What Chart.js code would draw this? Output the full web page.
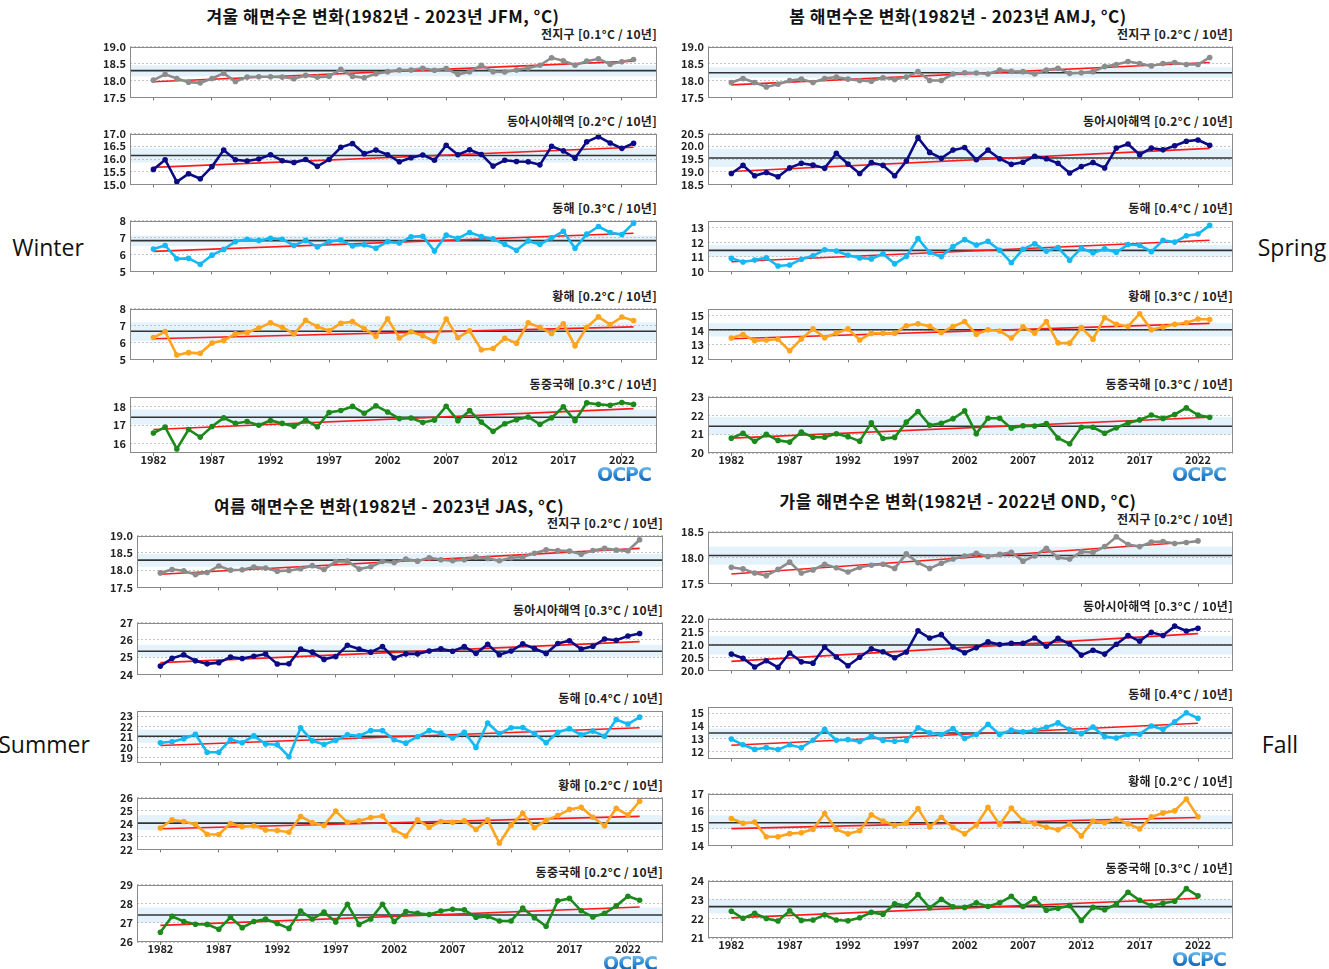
<!DOCTYPE html>
<html><head><meta charset="utf-8">
<script src="https://cdn.jsdelivr.net/npm/chart.js@4/dist/chart.umd.min.js"></script>
<style>
body{margin:0;background:#fff;}
#wrap{position:relative;width:1329px;height:969px;overflow:hidden;font-family:"Noto Sans CJK KR","Noto Sans",sans-serif;}
.title{position:absolute;font-weight:bold;font-size:17px;letter-spacing:0.5px;color:#111;white-space:nowrap;transform:translate(-50%,-50%);}
.lab{position:absolute;font-size:12px;letter-spacing:0.3px;font-weight:bold;color:#222;white-space:nowrap;transform:translate(-100%,-50%);line-height:14px;}
.season{position:absolute;font-family:"Open Sans",sans-serif;font-size:23px;color:#111;white-space:nowrap;transform:translate(-50%,-50%);}
.logo{position:absolute;font-family:"DejaVu Sans",sans-serif;font-weight:bold;font-size:19px;letter-spacing:-1px;transform:translate(-50%,-50%);
 background:linear-gradient(#8fd0f4,#1f7fd0 60%,#0b4fa0);-webkit-background-clip:text;background-clip:text;color:transparent;}
canvas{position:absolute;}
</style></head>
<body><div id="wrap"></div>
<script>
// ---------------- DATA ----------------
const years = [1982,1983,1984,1985,1986,1987,1988,1989,1990,1991,1992,1993,1994,1995,1996,1997,1998,1999,2000,2001,
 2002,2003,2004,2005,2006,2007,2008,2009,2010,2011,2012,2013,2014,2015,2016,2017,2018,2019,2020,2021,2022,2023];
const xTickYears = [1982,1987,1992,1997,2002,2007,2012,2017,2022];

const regionNames = ['전지구','동아시아해역','동해','황해','동중국해'];

// Winter (JFM)
const winterGlobal = [18.01,18.18,18.06,17.95,17.93,18.06,18.21,17.97,18.10,18.11, 18.11,18.10,18.05,18.15,18.10,18.12,18.33,18.12,18.08,18.20,
 18.26,18.31,18.31,18.36,18.30,18.35,18.18,18.26,18.45,18.26, 18.25,18.31,18.37,18.45,18.67,18.58,18.45,18.57,18.64,18.48, 18.55,18.62];
const winterEastAsia = [15.59,15.97,15.10,15.42,15.22,15.70,16.35,15.97,15.92,16.00, 16.17,15.93,15.86,15.98,15.71,15.98,16.46,16.61,16.21,16.35,
 16.17,15.89,16.05,16.16,15.95,16.54,16.17,16.36,16.18,15.72, 15.95,15.90,15.89,15.77,16.50,16.32,16.03,16.68,16.88,16.63, 16.42,16.62];
const winterEastSea = [6.32,6.53,5.75,5.77,5.42,5.96,6.30,6.76,6.90,6.83, 6.95,6.90,6.53,6.83,6.44,6.75,6.85,6.50,6.57,6.37,
 6.76,6.67,7.05,7.08,6.20,7.14,6.95,7.30,7.06,6.93, 6.60,6.25,6.80,6.60,6.98,7.37,6.36,7.20,7.65,7.30, 7.18,7.85];
const winterYellowSea = [6.29,6.64,5.26,5.40,5.36,5.97,6.11,6.51,6.58,6.85, 7.16,6.90,6.50,7.31,6.94,6.69,7.13,7.23,6.81,6.37,
 7.40,6.27,6.63,6.40,6.06,7.39,6.29,6.69,5.57,5.64, 6.25,5.96,7.16,6.89,6.53,7.10,5.80,6.90,7.51,7.06, 7.50,7.30];
const winterECS = [16.58,16.90,15.72,16.77,16.36,16.93,17.40,17.10,17.20,17.00, 17.26,17.10,16.94,17.28,16.92,17.69,17.80,18.02,17.65,18.05,
 17.72,17.36,17.39,17.15,17.28,18.03,17.25,17.79,17.17,16.67, 17.08,17.30,17.45,17.05,17.40,18.00,17.24,18.21,18.13,18.08, 18.23,18.13];
const winterTrend = [[17.96,18.57],[15.67,16.46],[6.18,7.25],[6.22,6.92],[16.77,17.90]];
const winterMean = [18.29,16.14,6.82,6.66,17.43];
const winterBand = [[18.12,18.45],[15.86,16.42],[6.49,7.12],[6.08,7.19],[17.04,17.85]];
const winterRate = ['0.1','0.2','0.3','0.2','0.3'];
const winterRange = [[17.5,19],[15,17],[5,8],[5,8],[15.5,18.55]];
const winterTicks = [[17.5,18,18.5,19],[15,15.5,16,16.5,17],[5,6,7,8],[5,6,7,8],[16,17,18]];

// Spring (AMJ)
const springGlobal = [17.94,18.06,17.94,17.81,17.89,18.00,18.04,17.94,18.06,18.10, 18.04,18.00,17.98,18.08,18.03,18.10,18.26,18.00,18.00,18.19,
 18.23,18.22,18.19,18.31,18.27,18.26,18.19,18.31,18.36,18.21, 18.23,18.26,18.41,18.47,18.56,18.50,18.43,18.50,18.53,18.47, 18.47,18.68];
const springEastAsia = [18.93,19.25,18.84,18.97,18.80,19.15,19.33,19.26,19.14,19.72, 19.30,18.93,19.36,19.25,18.84,19.42,20.34,19.76,19.53,19.85,
 19.95,19.47,19.85,19.51,19.29,19.37,19.61,19.51,19.33,18.95, 19.20,19.36,19.15,19.93,20.09,19.67,19.93,19.86,20.02,20.20, 20.25,20.04];
const springEastSea = [10.90,10.65,10.78,10.94,10.37,10.44,10.84,11.07,11.49,11.41, 11.11,10.92,10.86,11.21,10.52,11.03,12.27,11.30,11.02,11.72,
 12.20,11.82,12.07,11.46,10.60,11.53,11.91,11.40,11.64,10.77, 11.60,11.28,11.55,11.32,11.85,11.80,11.36,12.14,12.02,12.45, 12.58,13.17];
const springYellowSea = [13.47,13.72,13.28,13.34,13.39,12.59,13.41,14.10,13.50,13.82, 14.10,13.34,13.79,13.80,13.80,14.32,14.45,14.28,13.85,14.27,
 14.61,13.73,14.04,13.96,13.47,14.25,13.81,14.61,13.14,13.12, 14.19,13.39,14.88,14.42,14.27,15.15,14.04,14.23,14.42,14.52, 14.78,14.75];
const springECS = [20.79,21.05,20.62,21.00,20.67,20.58,21.11,20.84,20.84,21.02, 20.87,20.63,21.60,20.77,20.83,21.64,22.21,21.48,21.58,21.82,
 22.24,21.03,21.85,21.85,21.32,21.45,21.44,21.56,20.80,20.49, 21.37,21.37,21.05,21.34,21.60,21.76,22.02,21.84,22.05,22.40, 22.02,21.90];
const springTrend = [[17.87,18.53],[19.01,19.92],[10.67,12.15],[13.42,14.48],[20.79,21.90]];
const springMean = [18.23,19.54,11.45,14.04,21.42];
const springBand = [[18.08,18.39],[19.18,19.91],[11.0,11.83],[13.58,14.5],[20.97,21.92]];
const springRate = ['0.2','0.2','0.4','0.3','0.3'];
const springRange = [[17.5,19],[18.5,20.5],[10,13.5],[12,15.5],[20,23]];
const springTicks = [[17.5,18,18.5,19],[18.5,19,19.5,20,20.5],[10,11,12,13],[12,13,14,15],[20,21,22,23]];

// Summer (JAS)
const summerGlobal = [17.92,18.02,17.98,17.87,17.93,18.12,18.00,18.01,18.09,18.06, 17.97,17.99,18.04,18.13,18.02,18.25,18.26,18.03,18.10,18.25,
 18.22,18.32,18.26,18.36,18.30,18.27,18.30,18.38,18.34,18.27, 18.36,18.38,18.49,18.59,18.57,18.55,18.46,18.57,18.63,18.58, 18.56,18.88];
const summerEastAsia = [24.48,24.93,25.14,24.79,24.61,24.68,25.00,24.92,25.05,25.18, 24.60,24.61,25.47,25.29,24.87,25.03,25.69,25.47,25.29,25.61,
 24.95,25.19,25.19,25.35,25.48,25.34,25.61,25.22,25.74,25.14, 25.35,25.77,25.50,25.21,25.79,25.95,25.47,25.63,26.05,25.98, 26.22,26.37];
const summerEastSea = [20.44,20.55,20.84,21.27,19.53,19.53,20.76,20.44,21.11,20.33, 20.25,19.10,21.89,20.63,20.28,20.68,21.22,21.11,21.62,21.62,
 20.74,20.41,21.03,21.62,21.38,20.90,21.46,20.00,22.36,21.33, 21.89,21.91,21.33,20.44,21.46,21.81,21.22,21.57,21.08,22.68, 22.25,22.92];
const summerYellowSea = [23.65,24.28,24.15,23.93,23.17,23.15,24.00,23.76,23.83,23.50, 23.46,23.33,24.54,24.07,23.85,24.96,24.09,24.20,24.46,24.57,
 23.50,23.04,24.28,23.72,24.15,24.09,24.20,23.54,24.28,22.48, 23.87,24.78,23.67,24.24,24.61,25.09,25.26,24.48,23.83,25.17, 24.65,25.72];
const summerECS = [26.51,27.34,27.07,26.93,26.92,26.67,27.29,26.75,27.07,27.20, 26.97,26.71,27.62,27.20,27.56,27.05,27.97,26.92,27.20,27.97,
 27.07,27.59,27.50,27.44,27.62,27.71,27.68,27.29,27.34,27.10, 27.10,27.78,27.27,26.82,28.15,28.28,27.63,27.31,27.50,27.89, 28.39,28.18];
const summerTrend = [[17.88,18.63],[24.68,25.90],[20.18,21.90],[23.60,24.55],[26.87,27.83]];
const summerMean = [18.29,25.34,21.07,24.03,27.41];
const summerBand = [[18.10,18.47],[25.02,25.71],[20.44,21.72],[23.5,24.65],[27.0,27.8]];
const summerRate = ['0.2','0.3','0.4','0.2','0.2'];
const summerRange = [[17.5,19],[24,27],[18.55,23.55],[22,26],[26,29]];
const summerTicks = [[17.5,18,18.5,19],[24,25,26,27],[19,20,21,22,23],[22,23,24,25,26],[26,27,28,29]];

// Fall (OND) — 1982-2022
const fallGlobal = [17.81,17.78,17.70,17.65,17.77,17.91,17.70,17.76,17.87,17.80, 17.72,17.81,17.85,17.87,17.79,18.07,17.90,17.79,17.89,17.97,
 18.03,18.08,18.02,18.06,18.10,17.93,18.03,18.18,18.00,17.97, 18.11,18.10,18.21,18.40,18.25,18.21,18.30,18.31,18.27,18.29, 18.32];
const fallEastAsia = [20.63,20.47,20.13,20.37,20.12,20.67,20.33,20.28,20.90,20.52, 20.18,20.51,20.83,20.72,20.49,20.71,21.53,21.25,21.38,20.90,
 20.68,20.88,21.10,21.00,21.05,21.05,21.25,20.93,21.24,21.02, 20.59,20.78,20.63,21.01,21.35,21.13,21.47,21.35,21.71,21.52, 21.63];
const fallEastSea = [13.00,12.55,12.20,12.33,12.18,12.55,12.33,12.90,13.75,12.90, 12.95,12.80,13.22,12.88,12.82,12.88,13.87,13.48,13.35,13.80,
 13.03,13.35,14.13,13.35,13.68,13.55,13.68,13.90,14.24,13.72, 13.41,13.93,13.18,13.07,13.35,13.37,14.00,13.75,14.32,15.02, 14.60];
const fallYellowSea = [15.56,15.28,15.35,14.50,14.50,14.68,14.73,14.93,15.85,14.93, 14.67,14.85,15.77,15.41,15.16,15.29,16.13,15.07,15.63,15.03,
 14.67,15.18,16.21,15.20,16.16,15.44,15.26,15.05,14.90,15.24, 14.55,15.41,15.31,15.52,15.26,14.95,15.65,15.87,16.00,16.69, 15.66];
const fallECS = [22.40,22.03,22.29,22.02,21.89,22.42,21.92,21.94,22.21,21.94, 21.90,22.06,22.34,22.24,22.79,22.68,23.27,22.58,23.02,22.63,
 22.60,22.84,22.65,22.84,23.18,22.65,23.06,22.45,22.55,22.69, 21.92,22.60,22.48,22.77,23.39,22.97,22.69,22.82,22.92,23.58, 23.20];
const fallTrend = [[17.68,18.31],[20.35,21.42],[12.52,14.22],[14.97,15.62],[22.05,23.08]];
const fallMean = [18.04,20.98,13.46,15.31,22.64];
const fallBand = [[17.86,18.21],[20.61,21.33],[13.12,13.8],[14.95,15.74],[22.29,23.02]];
const fallRate = ['0.2','0.3','0.4','0.2','0.3'];
const fallRange = [[17.5,18.5],[20,22],[11.5,15.5],[14,17],[21,24]];
const fallTicks = [[17.5,18,18.5],[20,20.5,21,21.5,22],[12,13,14,15],[14,15,16,17],[21,22,23,24]];

// ---------------- STYLE / LAYOUT ----------------
const seriesColors = ['#8c8c8c','#0b0b86','#14b9f4','#ffa41c','#1b8a1b'];

const panels = [
 {title:'겨울 해면수온 변화(1982년 - 2023년 JFM, °C)', tx:383, ty:15, L:130, R:657, tops:[42,129,216,304,392], h:61,
  series:[winterGlobal,winterEastAsia,winterEastSea,winterYellowSea,winterECS], trend:winterTrend, mean:winterMean, band:winterBand,
  rate:winterRate, range:winterRange, ticks:winterTicks, season:'Winter', sx:48, sy:247, lx:624, ly:474},
 {title:'봄 해면수온 변화(1982년 - 2023년 AMJ, °C)', tx:958, ty:15, L:708, R:1233, tops:[42,129,216,304,392], h:61,
  series:[springGlobal,springEastAsia,springEastSea,springYellowSea,springECS], trend:springTrend, mean:springMean, band:springBand,
  rate:springRate, range:springRange, ticks:springTicks, season:'Spring', sx:1292, sy:247, lx:1199, ly:474},
 {title:'여름 해면수온 변화(1982년 - 2023년 JAS, °C)', tx:389, ty:505, L:137, R:663, tops:[531,618,706,793,880], h:62,
  series:[summerGlobal,summerEastAsia,summerEastSea,summerYellowSea,summerECS], trend:summerTrend, mean:summerMean, band:summerBand,
  rate:summerRate, range:summerRange, ticks:summerTicks, season:'Summer', sx:44, sy:744, lx:630, ly:963},
 {title:'가을 해면수온 변화(1982년 - 2022년 OND, °C)', tx:958, ty:500, L:708, R:1233, tops:[527,614,702,789,876], h:62,
  series:[fallGlobal,fallEastAsia,fallEastSea,fallYellowSea,fallECS], trend:fallTrend, mean:fallMean, band:fallBand,
  rate:fallRate, range:fallRange, ticks:fallTicks, season:'Fall', sx:1280, sy:744, lx:1199, ly:959}
];

Chart.defaults.font.family = '"Noto Sans CJK KR","Noto Sans",sans-serif';

const refPlugin = {
  id: 'refBand',
  beforeDraw(chart, args, o) {
    const {ctx, chartArea: a, scales: {y}} = chart;
    const y1 = y.getPixelForValue(o.hi), y2 = y.getPixelForValue(o.lo);
    ctx.save(); ctx.fillStyle = '#e4f2fc'; ctx.fillRect(a.left, y1, a.right - a.left, y2 - y1); ctx.restore();
  },
  beforeDatasetsDraw(chart, args, o) {
    const {ctx, chartArea: a, scales: {y}} = chart;
    const ym = y.getPixelForValue(o.mean);
    ctx.save(); ctx.strokeStyle = '#333'; ctx.lineWidth = 1.6;
    ctx.beginPath(); ctx.moveTo(a.left, ym); ctx.lineTo(a.right, ym); ctx.stroke(); ctx.restore();
  },
  afterDraw(chart) {
    const {ctx, chartArea: a} = chart;
    ctx.save(); ctx.strokeStyle = '#8a8a8a'; ctx.lineWidth = 1;
    ctx.strokeRect(Math.round(a.left) + 0.5, Math.round(a.top) + 0.5, Math.round(a.right - a.left) - 1, Math.round(a.bottom - a.top) - 1);
    ctx.restore();
  }
};

const wrap = document.getElementById('wrap');
function addDiv(cls, text, x, y) {
  const d = document.createElement('div'); d.className = cls; d.textContent = text;
  d.style.left = x + 'px'; d.style.top = y + 'px'; wrap.appendChild(d); return d;
}

const YW = 45, PT = 6, PR = 6;
panels.forEach(p => {
  addDiv('title', p.title, p.tx, p.ty);
  addDiv('season', p.season, p.sx, p.sy);
  addDiv('logo', 'OCPC', p.lx, p.ly);
  p.series.forEach((vals, k) => {
    const bottom = (k === 4);
    const XH = bottom ? 16 : 5;
    addDiv('lab', regionNames[k] + ' [' + p.rate[k] + '°C / 10년]', p.R, p.tops[k] - 8);
    const cv = document.createElement('canvas');
    const W = (p.R - p.L) + YW + PR, H = p.h + PT + XH;
    cv.width = W; cv.height = H;
    cv.style.left = (p.L - YW) + 'px'; cv.style.top = (p.tops[k] - PT) + 'px';
    cv.style.width = W + 'px'; cv.style.height = H + 'px';
    wrap.appendChild(cv);
    const yrs = years.slice(0, vals.length);
    const lastYear = yrs[yrs.length - 1];
    const ticks = p.ticks[k];
    const dec = ticks.some(t => Math.round(t) !== t) ? 1 : 0;
    new Chart(cv, {
      type: 'line',
      data: {
        datasets: [
          {data: vals.map((v, i) => ({x: yrs[i], y: v})), borderColor: seriesColors[k], backgroundColor: seriesColors[k],
           borderWidth: 2.6, pointRadius: 2.8, pointBorderWidth: 0, pointBackgroundColor: seriesColors[k], tension: 0, clip: false},
          {data: [{x: 1982, y: p.trend[k][0]}, {x: lastYear, y: p.trend[k][1]}], borderColor: '#ff1a1a', borderWidth: 1.6,
           pointRadius: 0, tension: 0}
        ]
      },
      options: {
        responsive: false, animation: false, devicePixelRatio: 1, events: [],
        layout: {padding: {left: 0, top: PT, right: PR, bottom: 0}},
        plugins: {legend: {display: false}, tooltip: {enabled: false}, title: {display: false},
                  refBand: {mean: p.mean[k], lo: p.band[k][0], hi: p.band[k][1]}},
        scales: {
          x: {type: 'linear', min: 1980, max: 2025,
              afterBuildTicks: s => { s.ticks = xTickYears.map(v => ({value: v})); },
              afterFit: s => { s.height = XH; },
              grid: {drawOnChartArea: false, drawTicks: true, tickLength: 3, color: '#777'},
              border: {display: false},
              ticks: {display: bottom, autoSkip: false, maxRotation: 0, padding: -3, color: '#222',
                      font: {size: 11, weight: 'bold'}, callback: v => String(v)}},
          y: {min: p.range[k][0], max: p.range[k][1],
              afterBuildTicks: s => { s.ticks = ticks.map(v => ({value: v})); },
              afterFit: s => { s.width = YW; },
              grid: {drawTicks: false, color: '#c4c4c4', lineWidth: 1},
              border: {display: false, dash: [2, 2]},
              ticks: {autoSkip: false, padding: 4, color: '#222', font: {size: 11, weight: 'bold'}, callback: v => v.toFixed(dec)}}
        }
      },
      plugins: [refPlugin]
    });
  });
});
</script>
</body></html>
